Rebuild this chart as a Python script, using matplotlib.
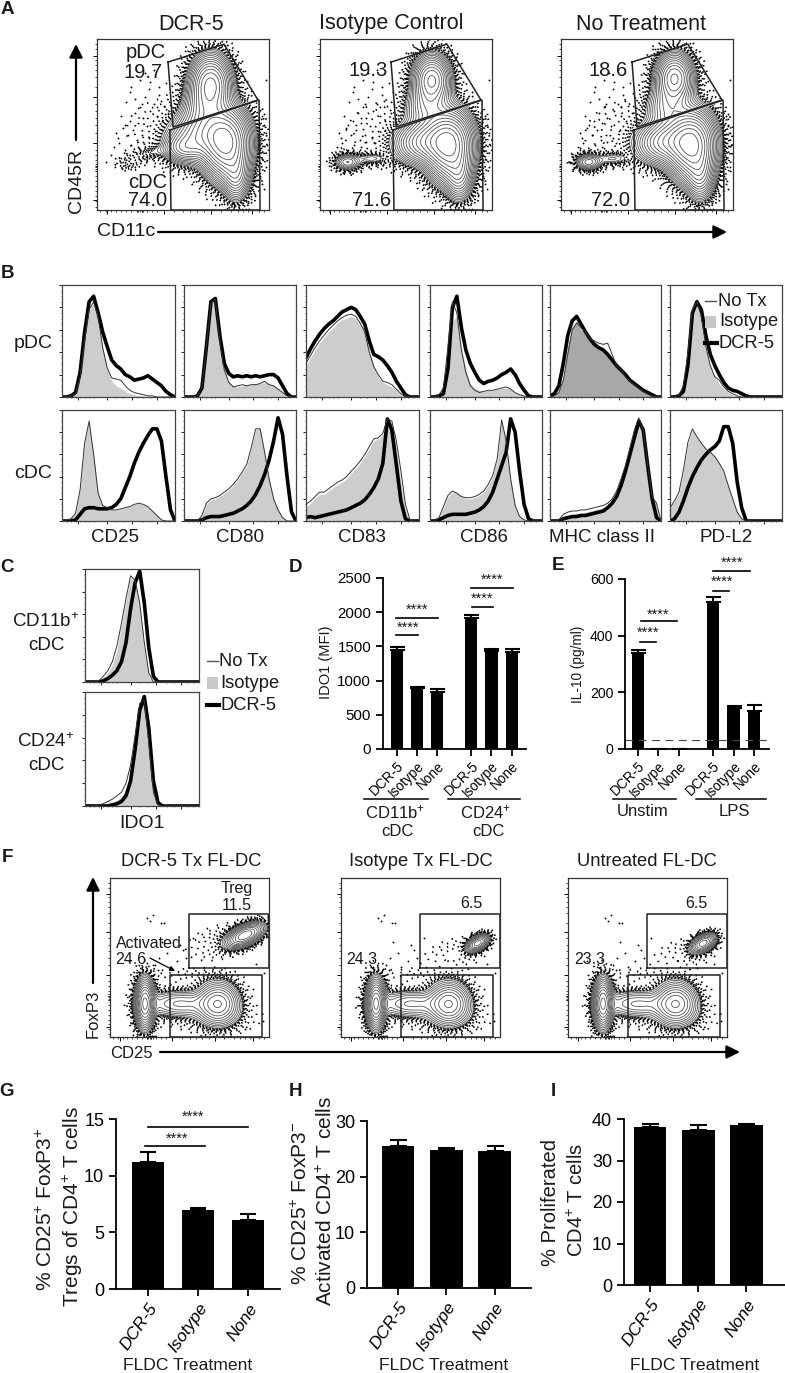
import numpy as np
import matplotlib
matplotlib.use("Agg")
import matplotlib.pyplot as plt

plt.rcParams['font.family'] = ['Liberation Sans', 'DejaVu Sans']
plt.rcParams['mathtext.default'] = 'regular'

W, H = 785, 1373

# ---- flow plots, all in percent of the plot box: (cx, cy, sx, sy, angle, amp)
a_blobs_dcr = [(66, 73, 6.5, 9.5, 0, .7), (62, 59, 7, 7, 0, .2), (75, 39, 7.5, 11, 0, 1), (61, 44, 10.5, 8, 20, .45),
               (50, 36, 6, 4.5, 0, .2), (81, 20, 4.5, 8, 0, .3), (30, 33, 8, 2.2, 15, .04), (18, 27, 4, 2, 0, .03),
               (36, 48, 12, 10, 20, .014)]
a_blobs_iso = [(65, 76, 6, 8, 0, .55), (62, 60, 7, 7, 0, .2), (75, 38, 7.5, 11, 0, 1), (61, 40, 9.5, 7, 10, .45),
               (81, 20, 4.5, 8, 0, .3), (16, 28, 4.4, 2.8, 0, .16), (30, 30, 6, 2.2, 0, .06), (36, 46, 13, 10, 20, .016)]
a_blobs_none = [(66, 77, 6, 8, 0, .55), (62, 60, 7, 7, 0, .2), (76, 38, 7.5, 11, 0, 1), (61, 40, 9.5, 7, 10, .45),
                (81, 20, 4.5, 8, 0, .3), (16, 28, 4.4, 2.8, 0, .18), (30, 30, 6, 2.2, 0, .07), (36, 46, 13, 10, 20, .018)]
a_dots_x = [10, 12, 15, 8, 20, 17, 25, 22, 30, 33, 36, 98, 97, 99, 5, 14, 26, 19, 28,
            24, 18, 21, 27, 31, 35, 38, 13, 16, 29, 34, 23, 37, 11, 20, 26, 32, 96, 95, 97, 98, 92, 88, 84, 40,
            22, 25, 28, 31, 33, 36, 39, 19, 16, 24, 27, 30, 35, 38, 41, 96, 97, 95, 98, 96]
a_dots_y = [37, 42, 48, 32, 72, 63, 76, 57, 71, 82, 67, 76, 56, 38, 28, 55, 62, 69, 80,
            51, 44, 47, 54, 58, 60, 52, 39, 35, 49, 46, 41, 64, 45, 38, 44, 39, 30, 20, 12, 45, 8, 4, 6, 74,
            65, 60, 66, 75, 62, 72, 61, 52, 50, 37, 40, 42, 55, 47, 57, 55, 50, 35, 25, 15]
f_blobs_dcr = [(22, 21, 2.9, 7.6, 0, 1), (68, 21, 6.8, 6.8, 0, .55), (44, 21, 12, 4.6, 0, .2), (85, 64, 6.5, 3.1, 25, .7),
               (70, 60, 12, 5.5, 15, .025), (50, 36, 18, 4, 0, .016), (66, 13, 15, 5.5, 0, .03), (22, 21, 5, 12, 0, .03)]
f_blobs_iso = [(22, 21, 2.9, 7.6, 0, 1), (68, 21, 6.8, 6.8, 0, .55), (44, 21, 12, 4.6, 0, .2), (86, 59, 4, 2.3, 30, .5),
               (72, 52, 12, 5.5, 15, .02), (50, 36, 18, 4, 0, .016), (66, 13, 15, 5.5, 0, .03), (22, 21, 5, 12, 0, .03)]
f_blobs_none = [(22, 21, 2.9, 7.6, 0, 1), (68, 21, 6.8, 6.8, 0, .55), (44, 21, 12, 4.6, 0, .2), (85, 59, 4.5, 2.6, 30, .5),
                (74, 52, 12, 5.5, 15, .02), (50, 36, 18, 4, 0, .016), (66, 13, 15, 5.5, 0, .03), (22, 21, 5, 12, 0, .03)]
f_dots_x = [23, 25, 27, 32, 34, 31, 36, 28, 42, 46, 97, 92, 12, 20, 33, 38, 44, 48, 52, 30, 96, 90, 85]
f_dots_y = [75, 73, 77, 72, 72, 50, 53, 45, 48, 55, 40, 46, 48, 44, 60, 44, 58, 50, 62, 42, 10, 30, 5]

gate_pdc_x = [41.3, 73.8, 93.6, 44.2, 41.3]
gate_pdc_y = [86.5, 97, 64.3, 48.5, 86.5]
gate_cdc_x = [42.4, 94.2, 94.8, 43, 42.4]
gate_cdc_y = [46.8, 64.3, 0, 0, 46.8]
gate_treg_x = [49.7, 100, 100, 49.7, 49.7]
gate_treg_y = [43.4, 43.4, 77.4, 77.4, 43.4]
gate_act_x = [37.7, 95.6, 95.6, 37.7, 37.7]
gate_act_y = [0, 0, 39, 39, 0]
flow_major = [6, 39, 66, 90]

# ---- histograms, percent of max at 0,4,...,100 % of the axis
hist_x = np.arange(0, 101, 4)
cd25_pdc_notx = [0, 0, 1, 3, 18, 50, 78, 85, 72, 44, 26, 17, 16, 15, 10, 6, 4, 3, 2, 1, 1, 0, 0, 0, 0, 0]
cd25_pdc_iso = [0, 0, 1, 3, 18, 50, 78, 84, 72, 45, 25, 14, 10, 8, 5, 3, 2, 1, 1, 0, 0, 0, 0, 0, 0, 0]
cd25_pdc_dcr = [0, 0, 1, 4, 22, 58, 85, 90, 75, 58, 45, 33, 28, 25, 20, 18, 15, 16, 17, 19, 16, 13, 10, 5, 2, 0]
cd80_pdc_notx = [0, 0, 0, 1, 8, 44, 84, 87, 50, 24, 13, 9, 10, 11, 10, 11, 11, 12, 14, 11, 10, 7, 4, 1, 0, 0]
cd80_pdc_iso = [0, 0, 0, 1, 8, 45, 85, 88, 52, 25, 14, 10, 9, 10, 11, 11, 12, 12, 13, 12, 10, 8, 4, 1, 0, 0]
cd80_pdc_dcr = [0, 0, 0, 1, 8, 45, 85, 88, 55, 30, 21, 18, 19, 18, 19, 18, 19, 18, 19, 20, 20, 17, 10, 3, 0, 0]
cd83_pdc_notx = [30, 37, 44, 50, 55, 60, 64, 68, 71, 73, 74, 72, 66, 58, 40, 27, 20, 14, 13, 11, 7, 3, 0, 0, 0, 0]
cd83_pdc_iso = [28, 35, 42, 48, 53, 58, 62, 66, 69, 70, 72, 70, 65, 58, 42, 28, 18, 13, 11, 9, 6, 2, 0, 0, 0, 0]
cd83_pdc_dcr = [35, 43, 50, 56, 61, 65, 68, 72, 76, 78, 80, 78, 72, 65, 50, 38, 36, 33, 28, 22, 14, 8, 2, 0, 0, 0]
cd86_pdc_notx = [0, 0, 2, 8, 45, 85, 75, 42, 22, 10, 6, 4, 5, 6, 6, 7, 8, 9, 7, 4, 2, 1, 0, 0, 0, 0]
cd86_pdc_iso = [0, 0, 1, 4, 25, 68, 72, 45, 25, 12, 8, 6, 5, 6, 6, 7, 8, 8, 7, 4, 2, 1, 0, 0, 0, 0]
cd86_pdc_dcr = [0, 0, 1, 3, 25, 80, 90, 62, 42, 30, 22, 15, 12, 14, 15, 17, 20, 22, 25, 20, 12, 6, 1, 0, 0, 0]
mhc_pdc_notx = [0, 1, 4, 15, 38, 60, 66, 62, 58, 52, 50, 48, 47, 48, 38, 28, 24, 18, 14, 11, 8, 5, 3, 1, 0, 0]
mhc_pdc_iso = [0, 1, 5, 18, 45, 62, 68, 60, 55, 50, 47, 44, 42, 37, 32, 27, 23, 18, 14, 11, 8, 5, 3, 1, 0, 0]
mhc_pdc_dcr = [1, 3, 10, 30, 55, 68, 72, 65, 58, 52, 47, 44, 42, 38, 33, 28, 24, 20, 15, 12, 9, 6, 4, 2, 0, 0]
pdl2_pdc_notx = [0, 0, 2, 10, 40, 78, 85, 72, 45, 28, 18, 15, 9, 5, 3, 1, 0, 0, 0, 0, 0, 0, 0, 0, 0, 0]
pdl2_pdc_iso = [0, 0, 1, 5, 28, 75, 90, 72, 45, 28, 18, 12, 7, 4, 2, 1, 0, 0, 0, 0, 0, 0, 0, 0, 0, 0]
pdl2_pdc_dcr = [0, 0, 1, 5, 28, 75, 85, 78, 55, 38, 28, 20, 13, 8, 6, 5, 3, 1, 0, 0, 0, 0, 0, 0, 0, 0]
cd25_cdc_notx = [0, 1, 2, 7, 28, 70, 90, 60, 25, 14, 12, 10, 10, 11, 12, 13, 15, 16, 15, 13, 9, 5, 1, 0, 0, 0]
cd25_cdc_iso = [0, 1, 2, 7, 28, 70, 90, 60, 25, 14, 12, 10, 10, 11, 12, 13, 15, 16, 15, 13, 9, 5, 1, 0, 0, 0]
cd25_cdc_dcr = [0, 0, 0, 1, 6, 11, 12, 12, 11, 11, 11, 12, 15, 20, 30, 40, 52, 62, 70, 77, 83, 83, 72, 40, 10, 0]
cd80_cdc_notx = [0, 0, 0, 0, 5, 16, 20, 21, 23, 26, 29, 33, 38, 44, 51, 66, 83, 83, 62, 38, 20, 10, 3, 0, 0, 0]
cd80_cdc_iso = [0, 0, 0, 0, 5, 15, 19, 20, 22, 25, 28, 32, 37, 43, 50, 65, 82, 84, 62, 38, 20, 10, 3, 0, 0, 0]
cd80_cdc_dcr = [0, 0, 0, 0, 1, 3, 4, 4, 4, 5, 6, 7, 9, 11, 14, 18, 24, 32, 42, 55, 72, 93, 78, 40, 8, 0]
cd83_cdc_notx = [15, 18, 22, 26, 26, 29, 32, 35, 37, 40, 45, 49, 54, 60, 67, 74, 75, 79, 92, 90, 72, 45, 15, 1, 0, 0]
cd83_cdc_iso = [13, 16, 20, 24, 24, 27, 30, 33, 35, 38, 43, 47, 52, 58, 65, 72, 74, 78, 92, 88, 65, 35, 10, 0, 0, 0]
cd83_cdc_dcr = [3, 4, 3, 4, 5, 6, 7, 8, 9, 10, 12, 14, 16, 19, 24, 30, 38, 52, 92, 82, 50, 18, 2, 0, 0, 0]
cd86_cdc_notx = [0, 0, 3, 13, 23, 27, 25, 22, 21, 21, 22, 24, 27, 33, 41, 56, 91, 72, 38, 14, 4, 1, 0, 0, 0, 0]
cd86_cdc_iso = [0, 0, 3, 12, 22, 26, 25, 22, 20, 20, 21, 23, 26, 32, 40, 55, 90, 72, 38, 14, 4, 1, 0, 0, 0, 0]
cd86_cdc_dcr = [0, 0, 1, 3, 5, 6, 6, 6, 6, 7, 8, 10, 13, 18, 26, 38, 50, 62, 92, 80, 45, 15, 2, 0, 0, 0]
mhc_cdc_notx = [0, 0, 1, 6, 8, 9, 9, 10, 10, 11, 12, 13, 14, 16, 20, 27, 38, 50, 66, 82, 93, 82, 50, 22, 16, 0]
mhc_cdc_iso = [0, 0, 1, 4, 5, 6, 7, 7, 8, 9, 10, 11, 12, 14, 18, 25, 36, 50, 65, 80, 92, 80, 48, 22, 15, 0]
mhc_cdc_dcr = [0, 0, 0, 2, 3, 4, 4, 5, 5, 6, 7, 8, 9, 12, 16, 22, 32, 45, 60, 75, 90, 82, 50, 20, 3, 0]
pdl2_cdc_notx = [12, 18, 26, 46, 71, 83, 76, 70, 65, 62, 58, 52, 45, 32, 20, 8, 2, 0, 0, 0, 0, 0, 0, 0, 0, 0]
pdl2_cdc_iso = [12, 18, 25, 45, 70, 82, 75, 70, 65, 62, 58, 52, 45, 32, 20, 8, 2, 0, 0, 0, 0, 0, 0, 0, 0, 0]
pdl2_cdc_dcr = [0, 2, 8, 18, 30, 40, 48, 55, 60, 64, 67, 72, 85, 85, 70, 35, 12, 0, 0, 0, 0, 0, 0, 0, 0, 0]
ido_cd11b_notx = [0, 0, 0, 1, 5, 10, 18, 32, 52, 74, 94, 90, 70, 35, 8, 0, 0, 0, 0, 0, 0, 0, 0, 0, 0, 0]
ido_cd11b_iso = [0, 0, 0, 1, 4, 8, 15, 28, 50, 72, 92, 88, 68, 30, 5, 0, 0, 0, 0, 0, 0, 0, 0, 0, 0, 0]
ido_cd11b_dcr = [0, 0, 0, 0, 1, 3, 6, 10, 18, 35, 65, 88, 98, 70, 30, 5, 0, 0, 0, 0, 0, 0, 0, 0, 0, 0]
ido_cd24_notx = [0, 0, 0, 1, 2, 4, 6, 9, 12, 20, 36, 62, 90, 93, 55, 12, 1, 0, 0, 0, 0, 0, 0, 0, 0, 0]
ido_cd24_iso = [0, 0, 0, 0, 1, 2, 3, 5, 8, 15, 30, 58, 88, 95, 60, 15, 2, 0, 0, 0, 0, 0, 0, 0, 0, 0]
ido_cd24_dcr = [0, 0, 0, 0, 0, 0, 1, 2, 4, 9, 22, 50, 84, 96, 68, 22, 3, 0, 0, 0, 0, 0, 0, 0, 0, 0]

# ---- bars
treat = ["DCR-5", "Isotype", "None"]
ido_pos = [0, 1, 2, 3.68, 4.68, 5.68]
ido_mfi = [1450, 890, 840, 1920, 1430, 1420]
ido_err = [45, 12, 35, 45, 35, 45]
il10_pos = [0, 1, 2, 3.67, 4.67, 5.67]
il10_val = [340, 0, 0, 520, 145, 135]
il10_err = [10, 0, 0, 15, 8, 20]
treg_val = [11.2, 7.0, 6.1]
treg_err = [0.9, 0.15, 0.5]
act_val = [25.5, 24.8, 24.7]
act_err = [1.0, 0.4, 0.8]
prolif_val = [38.0, 37.4, 38.5]
prolif_err = [0.7, 1.1, 0.4]

fig = plt.figure(figsize=(W / 100, H / 100), dpi=100)
ov = fig.add_axes([0, 0, 1, 1], zorder=10)
ov.set_xlim(0, W)
ov.set_ylim(H, 0)
ov.axis("off")


def px_ax(l, t, r, b):
    return fig.add_axes([l / W, 1 - b / H, (r - l) / W, (b - t) / H])


def txt(x, y, s, size, **kw):
    kw.setdefault("ha", "center")
    kw.setdefault("va", "center")
    ov.text(x, y, s, fontsize=size, color="#1a1a1a", **kw)


def arrow(x0, y0, x1, y1):
    ov.annotate("", xy=(x1, y1), xytext=(x0, y0),
                arrowprops=dict(arrowstyle="-|>", lw=1.6, color="k", mutation_scale=20, shrinkA=0, shrinkB=0))


def sig(x0, x1, y, xs, ys, size=10.5):
    ov.plot([x0, x1], [y, y], color="k", lw=1.2)
    txt(xs, ys, "****", size)


def density(blobs, xx, yy):
    z = np.zeros_like(xx)
    for cx, cy, sx, sy, ang, amp in blobs:
        t = np.radians(ang)
        u = (xx - cx) * np.cos(t) + (yy - cy) * np.sin(t)
        v = -(xx - cx) * np.sin(t) + (yy - cy) * np.cos(t)
        z += amp * np.exp(-0.5 * (u / sx) ** 2 - 0.5 * (v / sy) ** 2)
    return z


def flow(box, blobs, dots_x, dots_y, nlev, gates, cut=None):
    ax = px_ax(*box)
    g = np.linspace(0, 100, 400)
    xx, yy = np.meshgrid(g, g)
    z = density(blobs, xx, yy)
    # stipple the low density rim with dotted contours
    for lev, gap in [(.004, 5), (.007, 4), (.011, 3), (.016, 2.4), (.022, 1.8), (.028, 1.5), (.034, 1.3), (.04, 1.2), (.046, 1.1)]:
        ax.contour(xx, yy, z, levels=[lev], colors="k", linewidths=1.3, linestyles=[(0, (0.8, gap))])
    ax.contour(xx, yy, z, levels=np.geomspace(.05, .95, nlev), colors="#555555", linewidths=.6)
    ax.scatter(dots_x, dots_y, s=1.8, c="k", lw=0)
    if cut is not None:
        ax.plot(cut[0], cut[1], color="w", lw=2.2)
    for gx, gy in gates:
        ax.plot(gx, gy, color="#222222", lw=1.1, clip_on=False)
    ax.set_xlim(0, 100)
    ax.set_ylim(0, 100)
    ax.set_xticks(flow_major)
    ax.set_yticks(flow_major)
    ax.set_xticks(list(np.arange(2, 38, 3.0)) + [23, 24, 25, 26, 27] + [45, 50, 54, 58, 62, 72, 78, 82, 85, 88, 94, 97], minor=True)
    ax.set_yticks(list(np.arange(2, 38, 3.0)) + [23, 24, 25, 26, 27] + [45, 50, 54, 58, 62, 72, 78, 82, 85, 88, 94, 97], minor=True)
    ax.tick_params(which="major", length=3, width=.7, labelleft=False, labelbottom=False)
    ax.tick_params(which="minor", length=1.5, width=.5)
    for s in ax.spines.values():
        s.set_color("#333333")
        s.set_linewidth(.9)
    return ax


def hist(box, notx, iso, dcr, fill="#9c9c9c"):
    ax = px_ax(*box)
    ax.plot(hist_x, dcr, color="k", lw=2.6, solid_joinstyle="round")
    ax.fill_between(hist_x, iso, color=fill, alpha=.5, lw=0)
    ax.plot(hist_x, notx, color="#333333", lw=.7)
    ax.set_xlim(0, 100)
    ax.set_ylim(0, 100)
    ax.set_xticks([14, 40, 62, 84])
    ax.set_yticks([0, 20, 40, 60, 80, 100])
    ax.set_xticks(list(np.arange(4, 30, 4)) + [48, 54, 72, 78, 90, 95], minor=True)
    ax.set_yticks(np.arange(5, 100, 5), minor=True)
    ax.tick_params(which="major", length=2, width=.6, labelleft=False, labelbottom=False)
    ax.tick_params(which="minor", length=1, width=.4)
    for s in ax.spines.values():
        s.set_color("#444444")
        s.set_linewidth(.9)
    return ax


def bars(box, pos, val, err, xlim, ymax, yticks, width, size=13):
    ax = px_ax(*box)
    ax.bar(pos, val, width=width, color="k", lw=0)
    ax.errorbar(pos, val, yerr=[np.zeros(len(err)), err], fmt="none", ecolor="k", elinewidth=1.5, capsize=width * 9, capthick=1.5)
    ax.set_xlim(*xlim)
    ax.set_ylim(0, ymax)
    ax.set_yticks(yticks)
    ax.set_xticks(pos)
    ax.spines[["top", "right"]].set_visible(False)
    ax.spines[["left", "bottom"]].set_linewidth(1.3)
    ax.tick_params(width=1.3, length=5, labelsize=size)
    ax.patch.set_alpha(0)
    return ax


# ---- A
a_left = [97, 320, 561]
a_blobs = [a_blobs_dcr, a_blobs_iso, a_blobs_none]
for left, bl in zip(a_left, a_blobs):
    ax = flow((left, 39, left + 172, 210), bl, a_dots_x, a_dots_y, 16,
              [(gate_pdc_x, gate_pdc_y), (gate_cdc_x, gate_cdc_y)], cut=([43, 94], [47.6, 64.3]))
for x, s in zip([191, 391, 641], ["DCR-5", "Isotype Control", "No Treatment"]):
    txt(x, 24, s, 15.5)
txt(146, 52, "pDC", 14.5)
txt(143, 72, "19.7", 14.5)
txt(148, 182, "cDC", 14.5)
txt(148, 201, "74.0", 14.5)
txt(368, 71, "19.3", 14.5)
txt(372, 201, "71.6", 14.5)
txt(608, 71, "18.6", 14.5)
txt(611, 201, "72.0", 14.5)
txt(77, 181, "CD45R", 14, rotation=90)
arrow(76, 140, 76, 44)
txt(126, 232, "CD11c", 14)
arrow(158, 232, 727, 232)

# ---- B
b_cols = [(62, 175), (184, 296), (306, 419), (430, 542), (550, 661), (670, 782)]
pdc_rows = [(cd25_pdc_notx, cd25_pdc_iso, cd25_pdc_dcr), (cd80_pdc_notx, cd80_pdc_iso, cd80_pdc_dcr),
            (cd83_pdc_notx, cd83_pdc_iso, cd83_pdc_dcr), (cd86_pdc_notx, cd86_pdc_iso, cd86_pdc_dcr),
            (mhc_pdc_notx, mhc_pdc_iso, mhc_pdc_dcr), (pdl2_pdc_notx, pdl2_pdc_iso, pdl2_pdc_dcr)]
cdc_rows = [(cd25_cdc_notx, cd25_cdc_iso, cd25_cdc_dcr), (cd80_cdc_notx, cd80_cdc_iso, cd80_cdc_dcr),
            (cd83_cdc_notx, cd83_cdc_iso, cd83_cdc_dcr), (cd86_cdc_notx, cd86_cdc_iso, cd86_cdc_dcr),
            (mhc_cdc_notx, mhc_cdc_iso, mhc_cdc_dcr), (pdl2_cdc_notx, pdl2_cdc_iso, pdl2_cdc_dcr)]
for i, (l, r) in enumerate(b_cols):
    hist((l, 285, r, 397), *pdc_rows[i], fill="#525252" if i == 4 else "#9c9c9c")
    hist((l, 410, r, 521), *cdc_rows[i])
for x, s in zip([115, 240, 362, 484, 602, 726], ["CD25", "CD80", "CD83", "CD86", "MHC class II", "PD-L2"]):
    txt(x, 538, s, 13.5)
txt(33, 344, "pDC", 14)
txt(33, 473, "cDC", 14)
ov.plot([705, 716], [301, 301], color="#555555", lw=1)
txt(718, 301, "No Tx", 13.2, ha="left")
ov.fill([705, 716, 716, 705], [316, 316, 328, 328], color="#c8c8c8", lw=0)
txt(719, 322, "Isotype", 13.2, ha="left")
ov.plot([705, 717], [343, 343], color="k", lw=3)
txt(719, 343, "DCR-5", 13.2, ha="left")

# ---- C
hist((85, 569, 199, 682), ido_cd11b_notx, ido_cd11b_iso, ido_cd11b_dcr)
hist((85, 692, 199, 806), ido_cd24_notx, ido_cd24_iso, ido_cd24_dcr)
txt(46, 622, "CD11b$^{+}$", 13.5)
txt(46, 646, "cDC", 13.5)
txt(46, 742, "CD24$^{+}$", 13.5)
txt(46, 766, "cDC", 13.5)
txt(142, 823, "IDO1", 14)
ov.plot([207, 218], [661, 661], color="#555555", lw=1)
txt(219, 661, "No Tx", 13.2, ha="left")
ov.fill([207, 218, 218, 207], [677, 677, 689, 689], color="#c8c8c8", lw=0)
txt(220, 683, "Isotype", 13.2, ha="left")
ov.plot([207, 219], [705, 705], color="k", lw=3)
txt(221, 705, "DCR-5", 13.2, ha="left")

# ---- D
ax = bars((383, 578, 526, 749), ido_pos, ido_mfi, ido_err, (-.69, 6.39), 2500, [0, 500, 1000, 1500, 2000, 2500], .6, size=10.8)
ax.set_xticklabels(treat * 2, rotation=45, ha="right", rotation_mode="anchor", fontsize=9.8)
ax.tick_params(axis="x", pad=2)
txt(326, 662, "IDO1 (MFI)", 10.5, rotation=90)
sig(396, 418, 635, 408, 628)
sig(396, 438, 618, 417, 610)
sig(472, 493, 607, 482, 599)
sig(471, 513, 588, 492, 580)
ov.plot([364, 428], [799, 799], color="k", lw=1.1)
ov.plot([448, 520], [799, 799], color="k", lw=1.1)
txt(395, 812, "CD11b$^{+}$", 12)
txt(397, 832, "cDC", 12)
txt(485, 812, "CD24$^{+}$", 12)
txt(488, 832, "cDC", 12)

# ---- E
ax = bars((625, 579, 769, 749), il10_pos, il10_val, il10_err, (-.63, 6.4), 600, [0, 200, 400, 600], .6, size=10.2)
ax.set_xticklabels(treat * 2, rotation=45, ha="right", rotation_mode="anchor", fontsize=9.8)
ax.tick_params(axis="x", pad=2)
ax.axhline(30, color="#444444", lw=.8, dashes=(7, 5))
txt(578, 664, "IL-10 (pg/ml)", 9.8, rotation=90)
sig(640, 656, 642, 648, 633)
sig(641, 677, 621, 658, 615)
sig(713, 729, 591, 722, 582)
sig(713, 750, 571, 732, 563)
ov.plot([613, 676], [799, 799], color="k", lw=1.1)
ov.plot([696, 766], [799, 799], color="k", lw=1.1)
txt(643, 812, "Unstim", 12)
txt(734, 812, "LPS", 12)

# ---- F
f_left = [110, 341, 568]
f_blobs = [f_blobs_dcr, f_blobs_iso, f_blobs_none]
for left, bl in zip(f_left, f_blobs):
    flow((left, 878, left + 159, 1037), bl, f_dots_x, f_dots_y, 12,
         [(gate_treg_x, gate_treg_y), (gate_act_x, gate_act_y)])
for x, s in zip([191, 421, 647], ["DCR-5 Tx FL-DC", "Isotype Tx FL-DC", "Untreated FL-DC"]):
    txt(x, 862, s, 13.2)
txt(237, 888, "Treg", 11.5)
txt(237, 905, "11.5", 11.5)
txt(149, 944, "Activated", 11.5)
txt(131, 959, "24.6", 11.5)
ov.annotate("", xy=(175, 971), xytext=(150, 958),
            arrowprops=dict(arrowstyle="-|>", lw=.9, color="k", mutation_scale=7, shrinkA=0, shrinkB=0))
txt(471, 904, "6.5", 11.5)
txt(362, 960, "24.3", 11.5)
txt(696, 904, "6.5", 11.5)
txt(590, 960, "23.3", 11.5)
txt(93, 1014, "FoxP3", 12, rotation=90)
arrow(93, 983, 93, 877)
txt(131, 1053, "CD25", 12)
arrow(160, 1052, 740, 1052)

# ---- G H I
bar_pos = [0, 1, 2]
ax = bars((116, 1119, 280, 1289), bar_pos, treg_val, treg_err, (-.64, 2.64), 15, [0, 5, 10, 15], .64, size=13)
ax.set_xticklabels(treat, rotation=55, ha="right", rotation_mode="anchor", style="italic", fontsize=12.5)
ax = bars((367, 1121, 531, 1288), bar_pos, act_val, act_err, (-.64, 2.75), 30, [0, 10, 20, 30], .68, size=13)
ax.set_xticklabels(treat, rotation=55, ha="right", rotation_mode="anchor", style="italic", fontsize=12.5)
ax = bars((624, 1119, 785, 1285), bar_pos, prolif_val, prolif_err, (-.54, 2.8), 40, [0, 10, 20, 30, 40], .68, size=13)
ax.set_xticklabels(treat, rotation=55, ha="right", rotation_mode="anchor", style="italic", fontsize=12.5)
sig(145, 205, 1146, 177, 1139)
sig(148, 248, 1127, 193, 1117)
for x, s in zip([188, 444, 695], ["FLDC Treatment"] * 3):
    txt(x, 1366, s, 12.6)
txt(46, 1209, "% CD25$^{+}$ FoxP3$^{+}$", 15, rotation=90)
txt(73, 1207, "Tregs of CD4$^{+}$ T cells", 15, rotation=90)
txt(301, 1203, "% CD25$^{+}$ FoxP3$^{-}$", 15, rotation=90)
txt(326, 1201, "Activated CD4$^{+}$ T cells", 15, rotation=90)
txt(551, 1203, "% Proliferated", 14.5, rotation=90)
txt(577, 1200, "CD4$^{+}$ T cells", 14.5, rotation=90)

# ---- panel letters
for x, y, s in [(7, 10, "A"), (7, 273, "B"), (7, 568, "C"), (295, 568, "D"), (558, 566, "E"),
                (7, 858, "F"), (7, 1092, "G"), (295, 1092, "H"), (553, 1092, "I")]:
    txt(x, y, s, 13.5, weight="bold")

fig.savefig("out.png", dpi=100)
